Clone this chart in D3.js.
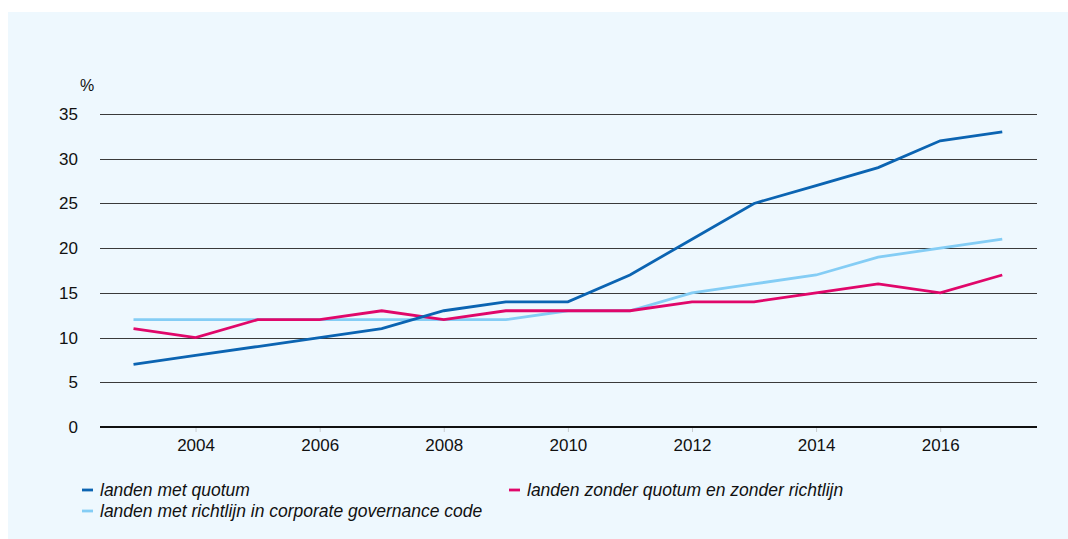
<!DOCTYPE html>
<html><head><meta charset="utf-8">
<script src="https://cdn.jsdelivr.net/npm/d3@7"></script>
<style>
html,body{margin:0;padding:0;background:#fff;}
svg{display:block;font-family:"Liberation Sans",Arial,Helvetica,sans-serif;}
</style></head>
<body><svg id="c" width="1068" height="539"></svg>
<script>
const years = [2003,2004,2005,2006,2007,2008,2009,2010,2011,2012,2013,2014,2015,2016,2017];
const quotum    = [7,8,9,10,11,13,14,14,17,21,25,27,29,32,33];
const zonder    = [11,10,12,12,13,12,13,13,13,14,14,15,16,15,17];
const richtlijn = [12,12,12,12,12,12,12,13,13,15,16,17,19,20,21];
const yTicks = [0,5,10,15,20,25,30,35];
const xTicks = [2004,2006,2008,2010,2012,2014,2016];
const seriesNames = ["landen met quotum","landen zonder quotum en zonder richtlijn","landen met richtlijn in corporate governance code"];
const colors = ["#0b64b2","#e0076a","#84cdf5"];

const svg = d3.select("#c");
svg.append("rect").attr("x",8).attr("y",12).attr("width",1060).attr("height",527).attr("fill","#eef8fe");

const x = d3.scaleLinear().domain([2002.46,2017.56]).range([100,1037]);
const y = d3.scaleLinear().domain([0,35]).range([427,114]);

const yAxis = d3.axisLeft(y).tickValues(yTicks).tickSize(0).tickPadding(22);
const gy = svg.append("g").attr("transform","translate(100,0)").call(yAxis);
gy.select(".domain").remove();
gy.selectAll("text").attr("font-size",17).attr("fill","#111");
svg.append("g").selectAll("line").data(yTicks.filter(d=>d>0)).join("line")
  .attr("x1",100).attr("x2",1037).attr("y1",d=>Math.round(y(d))+0.5).attr("y2",d=>Math.round(y(d))+0.5)
  .attr("stroke","#3a3a3a").attr("stroke-width",1);

const xAxis = d3.axisBottom(x).tickValues(xTicks).tickFormat(d3.format("d")).tickSize(5).tickPadding(7);
const gx = svg.append("g").attr("transform",`translate(0,${y(0)})`).call(xAxis);
gx.select(".domain").remove();
gx.selectAll("line").attr("stroke","#c8ccd0");
gx.selectAll("text").attr("font-size",17).attr("fill","#111");
svg.append("line").attr("x1",100).attr("x2",1037).attr("y1",y(0)).attr("y2",y(0)).attr("stroke","#111").attr("stroke-width",2);

svg.append("text").attr("x",80).attr("y",91).attr("font-size",16).attr("fill","#111").text("%");

const line = d3.line().x((d,i)=>x(years[i])).y(d=>y(d));
[[richtlijn,colors[2]],[zonder,colors[1]],[quotum,colors[0]]].forEach(([s,c])=>{
  svg.append("path").datum(s).attr("d",line).attr("fill","none").attr("stroke",c).attr("stroke-width",2.8);
});

const leg = [{i:0,x:82,y:490},{i:1,x:509,y:490},{i:2,x:82,y:511}];
const lg = svg.append("g");
leg.forEach(l=>{
  lg.append("line").attr("x1",l.x).attr("x2",l.x+11).attr("y1",l.y).attr("y2",l.y).attr("stroke",colors[l.i]).attr("stroke-width",2.8);
  lg.append("text").attr("x",l.x+18).attr("y",l.y+6).attr("font-size",17.5).attr("font-style","italic").attr("fill","#111").text(seriesNames[l.i]);
});
</script></body></html>
